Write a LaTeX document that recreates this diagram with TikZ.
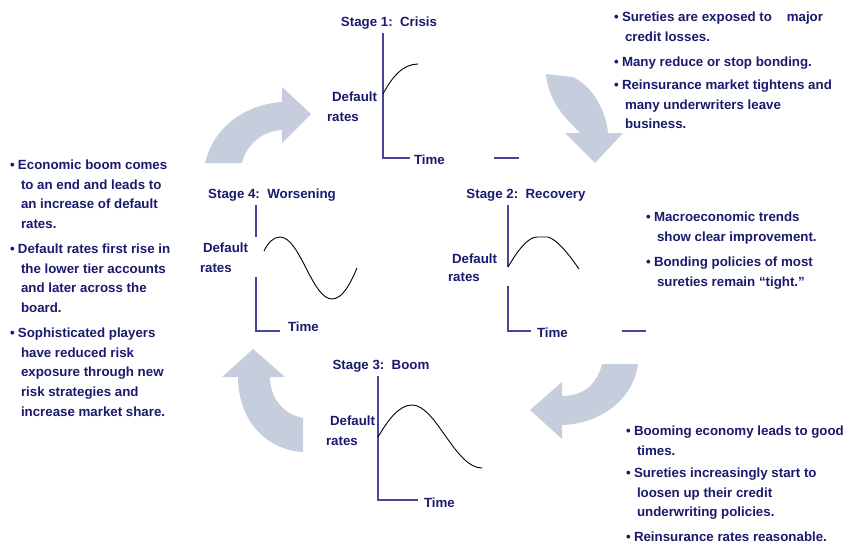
\documentclass[tikz,border=0pt]{standalone}
\usepackage{fontspec}
\setmainfont{Liberation Sans}
\definecolor{txt}{HTML}{1A1A6E}
\definecolor{axiscol}{HTML}{46469A}
\definecolor{arrcol}{HTML}{C6CEDE}
\newcommand{\bl}{\makebox[8pt][l]{\textbullet}}
\newcommand{\ind}{\hspace*{11pt}}
\newcommand{\txtblock}[1]{\parbox[t]{250pt}{\raggedright #1}}
\begin{document}
\begin{tikzpicture}[x=1pt,y=-1pt,
  every node/.style={inner sep=0pt, outer sep=0pt, text=txt,
    font=\fontsize{13.3}{19.7}\selectfont\bfseries},
  lbl/.style={anchor=base west},
  stg/.style={anchor=base},
  itm/.style={anchor=base west},
  ax/.style={draw=axiscol, line width=1.2pt},
  crv/.style={draw=black, line width=0.9pt},
  blk/.style={fill=arrcol, draw=none}]
\useasboundingbox[fill=white] (0,0) rectangle (846,544);

% ---------- curved arrows ----------
\fill[blk] (205,163) .. controls (214,125) and (248,104) .. (282,102)
  -- (282,87) -- (311,114) -- (282,143) -- (282,130)
  .. controls (262,131) and (246,145) .. (242,163) -- cycle;
\fill[blk] (546,74) -- (573,77) .. controls (592,86) and (606,110) .. (608,133)
  -- (623,133) -- (595,163) -- (565,133) -- (580,133)
  .. controls (566,118) and (549,104) .. cycle;
\fill[blk] (602,364) -- (638,364) .. controls (633,400) and (600,424) .. (562,425)
  -- (562,439) -- (530,410) -- (562,382) -- (562,396)
  .. controls (580,396) and (596,388) .. cycle;
\fill[blk] (303,452) -- (303,418) .. controls (283,414) and (270,398) .. (270,377)
  -- (285,377) -- (253,349) -- (222,377) -- (238,377)
  .. controls (238,420) and (266,450) .. cycle;

% ---------- Stage 1 ----------
\node[stg] (s1) at (389,26.5) {Stage 1:\ \ Crisis};
\draw[ax] (383,33) -- (383,158) -- (410,158);
\draw[ax] (494,158) -- (519,158);
\draw[crv] (383,94) .. controls (392,77) and (403,64) .. (418,64);
\node[lbl] (d1) at (332,101.5) {Default};
\node[lbl] (r1) at (327,121.5) {rates};
\node[lbl] (t1) at (414,164.5) {Time};

% ---------- Stage 2 ----------
\node[stg] (s2) at (526,198.5) {Stage 2:\ \ Recovery};
\draw[ax] (508,205) -- (508,267);
\draw[ax] (508,286) -- (508,331) -- (531,331);
\draw[ax] (622,331) -- (646,331);
\draw[crv] (508,267) .. controls (518,250) and (528,237) .. (537,237) -- (548,237)
  .. controls (558,240) and (570,256) .. (579,269);
\node[lbl] (d2) at (452,263.5) {Default};
\node[lbl] (r2) at (448,281.5) {rates};
\node[lbl] (t2) at (537,337.5) {Time};

% ---------- Stage 3 ----------
\node[stg] (s3) at (381,369.5) {Stage 3:\ \ Boom};
\draw[ax] (378,376) -- (378,500) -- (418,500);
\draw[crv] (378,437) .. controls (388,420) and (399,405) .. (412,405)
  .. controls (436,405) and (455,468) .. (482,468);
\node[lbl] (d3) at (330,425.5) {Default};
\node[lbl] (r3) at (326,445.5) {rates};
\node[lbl] (t3) at (424,507.5) {Time};

% ---------- Stage 4 ----------
\node[stg] (s4) at (272,198.5) {Stage 4:\ \ Worsening};
\draw[ax] (256,205) -- (256,237);
\draw[ax] (256,277) -- (256,331) -- (280,331);
\draw[crv] (264,251) .. controls (268,243) and (273,237) .. (280,237)
  .. controls (300,237) and (312,299) .. (332,299)
  .. controls (343,299) and (351,282) .. (357,268);
\node[lbl] (d4) at (203,252.5) {Default};
\node[lbl] (r4) at (200,272.5) {rates};
\node[lbl] (t4) at (288,331.5) {Time};

% ---------- text blocks ----------
\node[itm] (tr1) at (614,21.5) {\txtblock{\bl Sureties are exposed to\ \ \ \ major\\\ind credit losses.}};
\node[itm] (tr2) at (614,66.5) {\txtblock{\bl Many reduce or stop bonding.}};
\node[itm] (tr3) at (614,89.5) {\txtblock{\bl Reinsurance market tightens and\\\ind many underwriters leave\\\ind business.}};

\node[itm] (l1) at (10,169.5) {\txtblock{\bl Economic boom comes\\\ind to an end and leads to\\\ind an increase of default\\\ind rates.}};
\node[itm] (l2) at (10,253.5) {\txtblock{\bl Default rates first rise in\\\ind the lower tier accounts\\\ind and later across the\\\ind board.}};
\node[itm] (l3) at (10,337.5) {\txtblock{\bl Sophisticated players\\\ind have reduced risk\\\ind exposure through new\\\ind risk strategies and\\\ind increase market share.}};

\node[itm] (m1) at (646,221.5) {\txtblock{\bl Macroeconomic trends\\\ind show clear improvement.}};
\node[itm] (m2) at (646,266.5) {\txtblock{\bl Bonding policies of most\\\ind sureties remain “tight.”}};

\node[itm] (b1) at (626,435.5) {\txtblock{\bl Booming economy leads to good\\\ind times.}};
\node[itm] (b2) at (626,477.5) {\txtblock{\bl Sureties increasingly start to\\\ind loosen up their credit\\\ind underwriting policies.}};
\node[itm] (b3) at (626,541.5) {\txtblock{\bl Reinsurance rates reasonable.}};
\end{tikzpicture}
\end{document}
